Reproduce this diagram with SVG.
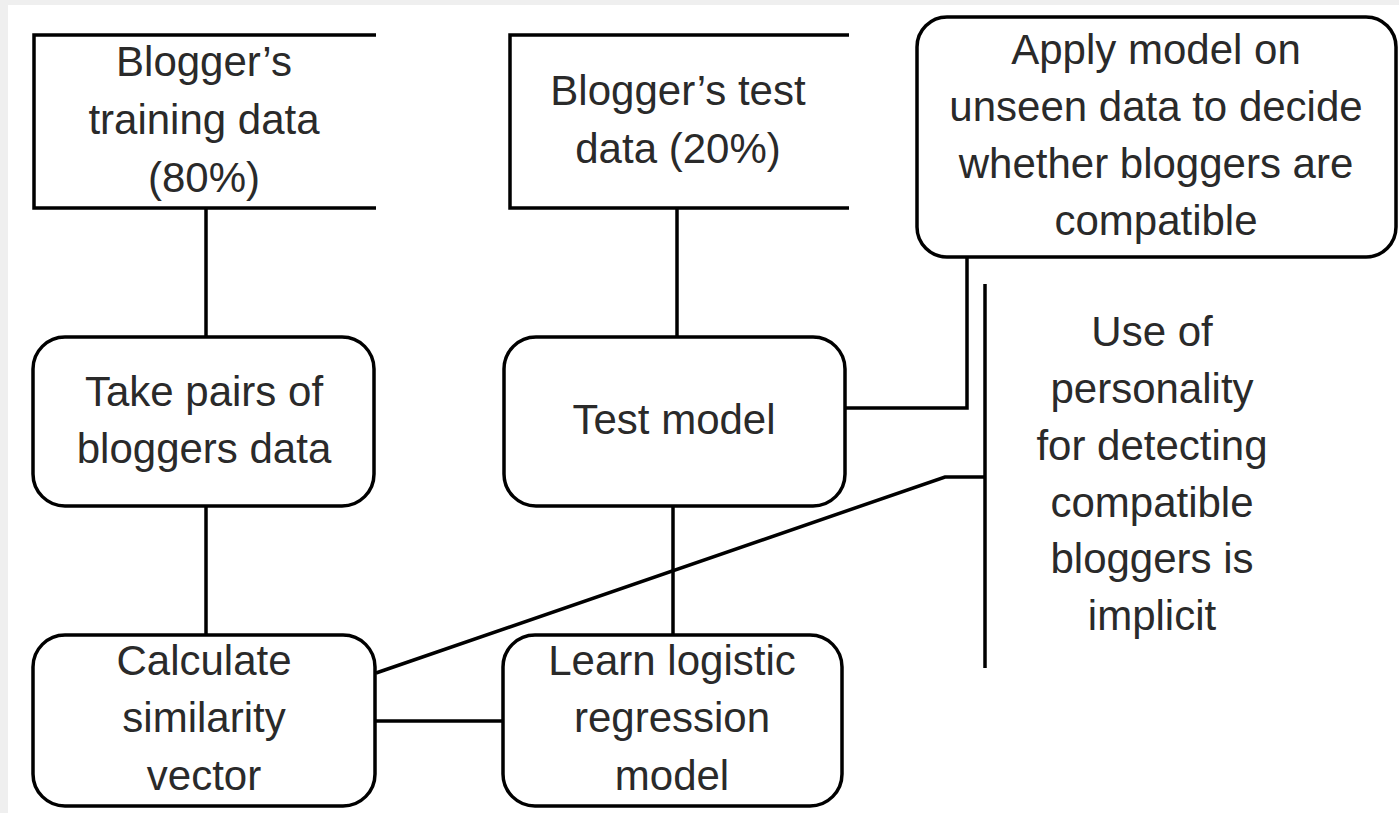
<svg xmlns="http://www.w3.org/2000/svg" width="1399" height="813" viewBox="0 0 1399 813">
<style>
.box{fill:#fff;stroke:#000;stroke-width:3.5}
.open{fill:none;stroke:#000;stroke-width:3.5}
.con{fill:none;stroke:#000;stroke-width:3.5}
text{font-family:"Liberation Sans",Arial,sans-serif;font-size:42px;fill:#2a2a2a;text-anchor:middle}
</style>
<rect width="1399" height="813" fill="#efefef"/>
<rect x="8" y="5" width="1391" height="808" fill="#fff"/>
<g id="connectors">
<line class="con" x1="206" y1="208" x2="206" y2="337"/>
<line class="con" x1="206" y1="506" x2="206" y2="635"/>
<line class="con" x1="677" y1="208" x2="677" y2="337"/>
<line class="con" x1="673" y1="506" x2="673" y2="635"/>
<line class="con" x1="375" y1="721" x2="503" y2="721"/>
<polyline class="con" points="845,408 967,408 967,257"/>
<polyline class="con" points="376,673 945,477 985,477"/>
<line class="con" x1="985" y1="284" x2="985" y2="668"/>
</g>
<g id="n1">
<path class="open" d="M376,35 H34 V208 H376"/>
<text x="204" y="76">Blogger’s</text>
<text x="204" y="134">training data</text>
<text x="204" y="192">(80%)</text>
</g>
<g id="n2">
<path class="open" d="M849,35 H510 V208 H849"/>
<text x="678" y="105">Blogger’s test</text>
<text x="678" y="163">data (20%)</text>
</g>
<g id="n3">
<rect class="box" x="917" y="17" width="479" height="240" rx="30" ry="30"/>
<text x="1156" y="64">Apply model on</text>
<text x="1156" y="121">unseen data to decide</text>
<text x="1156" y="178">whether bloggers are</text>
<text x="1156" y="235">compatible</text>
</g>
<g id="n4">
<rect class="box" x="33" y="337" width="341" height="169" rx="32" ry="32"/>
<text x="204" y="406">Take pairs of</text>
<text x="204" y="463">bloggers data</text>
</g>
<g id="n5">
<rect class="box" x="504" y="337" width="341" height="169" rx="32" ry="32"/>
<text x="674" y="434">Test model</text>
</g>
<g id="n6">
<rect class="box" x="33" y="635" width="342" height="171" rx="32" ry="32"/>
<text x="204" y="675">Calculate</text>
<text x="204" y="732">similarity</text>
<text x="204" y="790">vector</text>
</g>
<g id="n7">
<rect class="box" x="503" y="635" width="339" height="171" rx="32" ry="32"/>
<text x="672" y="675">Learn logistic</text>
<text x="672" y="732">regression</text>
<text x="672" y="790">model</text>
</g>
<g id="n8">
<text x="1152" y="346">Use of</text>
<text x="1152" y="403">personality</text>
<text x="1152" y="460">for detecting</text>
<text x="1152" y="517">compatible</text>
<text x="1152" y="573">bloggers is</text>
<text x="1152" y="630">implicit</text>
</g>
</svg>
